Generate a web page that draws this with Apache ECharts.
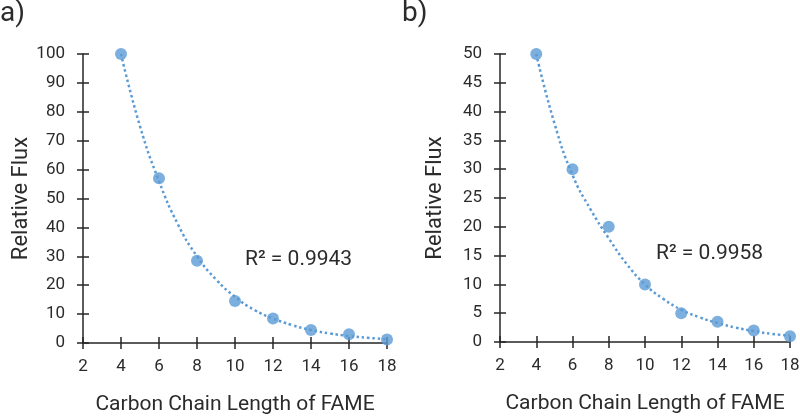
<!DOCTYPE html>
<html>
<head>
<meta charset="utf-8">
<script src="https://cdn.jsdelivr.net/npm/echarts@6/dist/echarts.min.js"></script>
<style>
html,body{margin:0;padding:0;background:#fff;}
#chart{width:800px;height:417px;}
</style>
</head>
<body>
<div id="chart"></div>
<script>
// ---- data ----
const chainLength = [4, 6, 8, 10, 12, 14, 16, 18];
const fluxA = [100, 57, 28.5, 14.5, 8.5, 4.5, 3, 1.2];
const fluxB = [50, 30, 20, 10, 5, 3.5, 2, 1];
const trendX = [4, 5, 6, 7, 8, 9, 10, 11, 12, 13, 14, 15, 16, 17, 18];
const trendA = [100, 75, 56, 41, 30, 22, 16, 11.5, 8.5, 6.2, 4.5, 3.3, 2.4, 1.8, 1.3];
const trendB = [50, 38, 29, 23, 18, 13.5, 10, 7.5, 5.6, 4.3, 3.3, 2.5, 1.9, 1.4, 1.1];
const r2Labels = ['R\u00B2 = 0.9943', 'R\u00B2 = 0.9958'];
const panelLabels = ['a)', 'b)'];
const xTitle = 'Carbon Chain Length of FAME';
const yTitle = 'Relative Flux';
const yMax = [100, 50];
const yStep = [10, 5];

const FONT = 'Roboto';
const TXT = '#2b2b2b';
const AX = '#262626';
const BLUE = '#5B9BD5';

function pairs(xs, ys){ return xs.map((x,i)=>[x, ys[i]]); }

const grids = [
  {left: 83, right: 413, top: 54, bottom: 74, containLabel: false, outerBoundsMode: 'none'},
  {left: 500, right: 10, top: 54, bottom: 75, containLabel: false, outerBoundsMode: 'none'}
];
const yNameGap = [48, 54];

const xAxes = [], yAxes = [], series = [];
[0,1].forEach(g => {
  xAxes.push({
    type: 'value', gridIndex: g, min: 2, max: 18, interval: 2, position: 'bottom',
    axisLine: {show: true, onZero: false, lineStyle: {color: AX, width: 1.5}},
    axisTick: {show: true, inside: false, length: 6, lineStyle: {color: AX, width: 1.5}},
    axisLabel: {margin: 15, fontSize: 17, color: TXT, fontFamily: FONT, hideOverlap: false},
    splitLine: {show: false},
    name: xTitle, nameLocation: 'middle', nameGap: 51,
    nameTextStyle: {fontSize: 21, color: TXT, fontFamily: FONT}
  });
  xAxes.push({
    type: 'value', gridIndex: g, min: 2, max: 18, interval: 2, position: 'bottom',
    axisLine: {show: false, onZero: false},
    axisTick: {show: true, inside: true, length: 6, lineStyle: {color: AX, width: 1.5}},
    axisLabel: {show: false}, splitLine: {show: false}
  });
  yAxes.push({
    type: 'value', gridIndex: g, min: 0, max: yMax[g], interval: yStep[g], position: 'left',
    axisLine: {show: true, onZero: false, lineStyle: {color: AX, width: 1.5}},
    axisTick: {show: true, inside: false, length: 6, lineStyle: {color: AX, width: 1.5}},
    axisLabel: {margin: 18, fontSize: 17, color: TXT, fontFamily: FONT},
    splitLine: {show: false},
    name: yTitle, nameLocation: 'middle', nameGap: yNameGap[g],
    nameTextStyle: {fontSize: 22, color: TXT, fontFamily: FONT}
  });
  yAxes.push({
    type: 'value', gridIndex: g, min: 0, max: yMax[g], interval: yStep[g], position: 'left',
    axisLine: {show: false, onZero: false},
    axisTick: {show: true, inside: true, length: 6, lineStyle: {color: AX, width: 1.5}},
    axisLabel: {show: false}, splitLine: {show: false}
  });
  const trend = g === 0 ? trendA : trendB;
  const flux = g === 0 ? fluxA : fluxB;
  series.push({
    type: 'line', xAxisIndex: g*2, yAxisIndex: g*2, data: pairs(trendX, trend),
    smooth: true, showSymbol: false, symbol: 'none', silent: true,
    lineStyle: {color: BLUE, width: 2.5, type: [2.5, 2.8]}, z: 2
  });
  series.push({
    type: 'scatter', xAxisIndex: g*2, yAxisIndex: g*2, data: pairs(chainLength, flux),
    symbol: 'circle', symbolSize: 12, itemStyle: {color: BLUE}, z: 3
  });
});

const chart = echarts.init(document.getElementById('chart'), null, {renderer: 'canvas'});
chart.setOption({
  animation: false,
  backgroundColor: '#fff',
  textStyle: {fontFamily: FONT},
  grid: grids,
  xAxis: xAxes,
  yAxis: yAxes,
  series: series,
  graphic: [
    {type: 'text', left: 0, top: 0, style: {text: panelLabels[0], fontSize: 28, fill: TXT, fontFamily: FONT}},
    {type: 'text', left: 402, top: 0, style: {text: panelLabels[1], fontSize: 28, fill: TXT, fontFamily: FONT}},
    {type: 'text', left: 245, top: 249, style: {text: r2Labels[0], fontSize: 21, fill: TXT, fontFamily: FONT}},
    {type: 'text', left: 656, top: 243, style: {text: r2Labels[1], fontSize: 21, fill: TXT, fontFamily: FONT}}
  ]
});
</script>
</body>
</html>
